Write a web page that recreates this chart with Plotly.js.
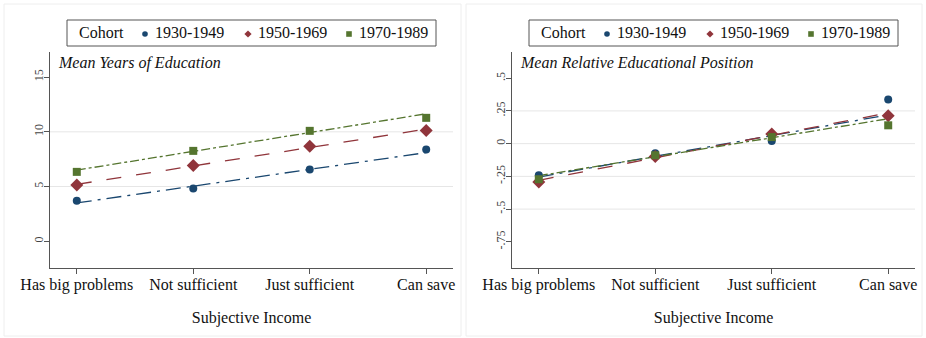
<!DOCTYPE html>
<html>
<head>
<meta charset="utf-8">
<script src="https://cdn.plot.ly/plotly-3.0.1.min.js"></script>
<style>html,body{margin:0;padding:0;background:#fff;}#chart{width:926px;height:338px;}</style>
</head>
<body>
<div id="chart"></div>
<script>
// ---- data ----
const categories = ["Has big problems", "Not sufficient", "Just sufficient", "Can save"];
const cohorts = ["1930-1949", "1950-1969", "1970-1989"];
const legendTitle = "Cohort";

// Left panel: Mean Years of Education (points)
const eduYears_1930 = [3.69, 4.81, 6.55, 8.38];
const eduYears_1950 = [5.15, 6.92, 8.69, 10.12];
const eduYears_1970 = [6.34, 8.26, 10.09, 11.28];
// Left panel fitted lines (values at first and last category)
const eduYearsFit_1930 = [3.5, 8.1];
const eduYearsFit_1950 = [5.2, 10.25];
const eduYearsFit_1970 = [6.5, 11.65];

// Right panel: Mean Relative Educational Position (points)
const relPos_1930 = [-0.242, -0.074, 0.02, 0.338];
const relPos_1950 = [-0.293, -0.099, 0.073, 0.213];
const relPos_1970 = [-0.272, -0.089, 0.05, 0.14];
// Right panel fitted lines
const relPosFit_1930 = [-0.255, 0.22];
const relPosFit_1950 = [-0.28, 0.235];
const relPosFit_1970 = [-0.245, 0.19];

// tick labels
const leftTickVals = [0, 5, 10, 15];
const leftTickText = ["0", "5", "10", "15"];
const rightTickVals = [-0.75, -0.5, -0.25, 0, 0.25, 0.5];
const rightTickText = ["-.75", "-.5", "-.25", "0", ".25", ".5"];
const leftGrid = [5, 10];
const rightGrid = [-0.5, -0.25, 0, 0.25];

// ---- styles ----
const colors = ["#1a476f", "#90353b", "#55752f"];
const symbols = ["circle", "diamond", "square"];
const msizes = [8, 10, 8];
const dashes = ["longdashdot", "longdash", "dashdot"];
const serif = "Liberation Serif, Times New Roman, serif";

const endCats = [categories[0], categories[categories.length - 1]];
const traces = [];
function addPanel(pointsArr, fitsArr, xa, ya) {
  for (let i = 0; i < 3; i++) {
    traces.push({
      x: endCats, y: fitsArr[i], xaxis: xa, yaxis: ya, mode: "lines",
      line: {color: colors[i], width: 1.3, dash: dashes[i]},
      showlegend: false, hoverinfo: "skip"
    });
  }
  for (let i = 0; i < 3; i++) {
    traces.push({
      x: categories, y: pointsArr[i], xaxis: xa, yaxis: ya, mode: "markers",
      name: cohorts[i], showlegend: false,
      marker: {color: colors[i], symbol: symbols[i], size: msizes[i]}
    });
  }
}
addPanel([eduYears_1930, eduYears_1950, eduYears_1970],
         [eduYearsFit_1930, eduYearsFit_1950, eduYearsFit_1970], "x", "y");
addPanel([relPos_1930, relPos_1950, relPos_1970],
         [relPosFit_1930, relPosFit_1950, relPosFit_1970], "x2", "y2");

const W = 926, H = 338;
const px = v => v / W, py = v => 1 - v / H;

function xaxisDef(domain) {
  return {
    domain: domain, type: "category", categoryarray: categories, range: [-0.23, 3.23],
    showline: true, linecolor: "#555", linewidth: 1, ticks: "outside", ticklen: 5,
    tickcolor: "#555", showgrid: false, zeroline: false, ticklabelstandoff: -3,
    tickfont: {family: serif, size: 16, color: "#111"},
    title: {text: "Subjective Income", font: {family: serif, size: 16, color: "#111"}, standoff: 18}
  };
}
function yaxisDef(domain, range, tv, tt, anchor) {
  return {
    domain: domain, range: range, anchor: anchor, tickvals: tv, ticktext: tt, tickangle: -90,
    showline: true, linecolor: "#555", linewidth: 1, ticks: "outside", ticklen: 5,
    tickcolor: "#555", showgrid: false, zeroline: false, ticklabelstandoff: -4,
    tickfont: {family: serif, size: 12, color: "#444"}
  };
}

const shapes = [];
const annotations = [];
leftGrid.forEach(v => shapes.push({type: "line", xref: "x domain", yref: "y", x0: 0, x1: 1, y0: v, y1: v,
  line: {color: "#e6e6e6", width: 1}, layer: "below"}));
rightGrid.forEach(v => shapes.push({type: "line", xref: "x2 domain", yref: "y2", x0: 0, x1: 1, y0: v, y1: v,
  line: {color: "#e6e6e6", width: 1}, layer: "below"}));
// faint panel frames
shapes.push({type: "rect", xref: "paper", yref: "paper", x0: px(4), x1: px(461), y0: py(336), y1: py(4),
  line: {color: "#eeeeee", width: 1}, layer: "below"});
shapes.push({type: "rect", xref: "paper", yref: "paper", x0: px(466), x1: px(922), y0: py(336), y1: py(4),
  line: {color: "#eeeeee", width: 1}, layer: "below"});

// Legends (one per panel), drawn as box + symbols + text
function addLegend(dx) {
  const cy = 34;
  shapes.push({type: "rect", xref: "paper", yref: "paper", x0: px(67 + dx), x1: px(436 + dx), y0: py(46), y1: py(20),
    line: {color: "#555", width: 1}, fillcolor: "#fff", layer: "above"});
  annotations.push({xref: "paper", yref: "paper", x: px(77 + dx), y: py(cy - 1), xanchor: "left", yanchor: "middle",
    text: legendTitle, showarrow: false, font: {family: serif, size: 16, color: "#111"}});
  const symX = [145, 248, 349];
  const txtX = [153, 256, 357];
  // circle
  shapes.push({type: "circle", xref: "paper", yref: "paper",
    x0: px(symX[0] - 2.8 + dx), x1: px(symX[0] + 2.8 + dx), y0: py(cy + 2.8), y1: py(cy - 2.8),
    fillcolor: colors[0], line: {width: 0}, layer: "above"});
  // diamond
  const d = 3.6, xd = symX[1] + dx;
  shapes.push({type: "path", xref: "paper", yref: "paper",
    path: `M ${px(xd)} ${py(cy - d)} L ${px(xd + d)} ${py(cy)} L ${px(xd)} ${py(cy + d)} L ${px(xd - d)} ${py(cy)} Z`,
    fillcolor: colors[1], line: {width: 0}, layer: "above"});
  // square
  shapes.push({type: "rect", xref: "paper", yref: "paper",
    x0: px(symX[2] - 2.8 + dx), x1: px(symX[2] + 2.8 + dx), y0: py(cy + 2.8), y1: py(cy - 2.8),
    fillcolor: colors[2], line: {width: 0}, layer: "above"});
  for (let i = 0; i < 3; i++) {
    annotations.push({xref: "paper", yref: "paper", x: px(txtX[i] + dx), y: py(cy - 1), xanchor: "left", yanchor: "middle",
      text: cohorts[i], showarrow: false, font: {family: serif, size: 16, color: "#111"}});
  }
}
addLegend(0);
addLegend(462);

annotations.push(
  {xref: "x domain", yref: "y domain", x: 0.015, y: 1.0, xanchor: "left", yanchor: "top",
   text: "<i>Mean Years of Education</i>", showarrow: false,
   font: {family: serif, size: 16, color: "#111"}},
  {xref: "x2 domain", yref: "y2 domain", x: 0.015, y: 1.0, xanchor: "left", yanchor: "top",
   text: "<i>Mean Relative Educational Position</i>", showarrow: false,
   font: {family: serif, size: 16, color: "#111"}}
);

const layout = {
  width: W, height: H, margin: {l: 0, r: 0, t: 0, b: 0},
  paper_bgcolor: "#fff", plot_bgcolor: "#fff", showlegend: false,
  xaxis: xaxisDef([px(50), px(453)]),
  yaxis: yaxisDef([py(268), py(52)], [-2.45, 17.3], leftTickVals, leftTickText, "x"),
  xaxis2: Object.assign(xaxisDef([px(512), px(915)]), {anchor: "y2"}),
  yaxis2: yaxisDef([py(268), py(52)], [-0.95, 0.70], rightTickVals, rightTickText, "x2"),
  shapes: shapes,
  annotations: annotations,
  hovermode: false
};

Plotly.newPlot("chart", traces, layout, {displayModeBar: false, staticPlot: true});
</script>
</body>
</html>
